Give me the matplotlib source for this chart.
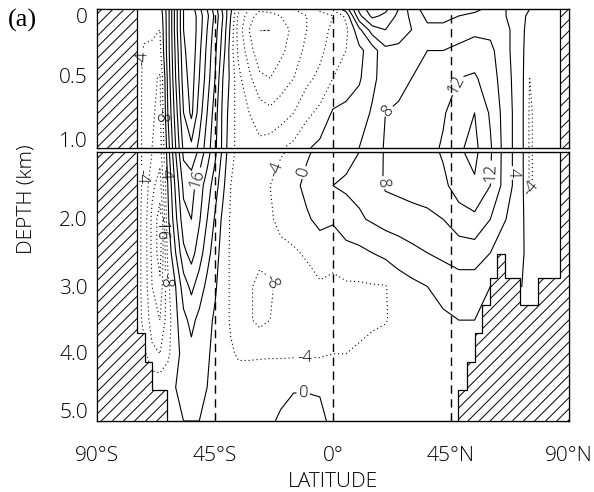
import numpy as np
import matplotlib
matplotlib.use("Agg")
import matplotlib.pyplot as plt
from matplotlib.patches import Polygon

# Grid of the overturning streamfunction (Sv): latitude nodes and depth nodes (km)
lat = [-90, -78, -75, -72, -69, -66, -63, -60, -57, -54, -51, -48, -45, -42, -39,
       -36, -32, -28, -24, -20, -15, -10, -5, 0, 5, 10, 15, 20, 25, 30,
       36, 42, 48, 54, 60, 66, 72, 75, 78, 84, 90]
depth = [0, 0.05, 0.15, 0.3, 0.5, 0.75, 1.0, 1.5, 2.0, 2.5, 3.0, 3.5, 4.0, 4.5, 5.0]

# One profile per latitude node, top to bottom
psi_profiles = [
    [0, 0, 0, 0, 0, 0, 0, 0, 0, 0, 0, 0, 0, 0, 0],                              # -90
    [0, 0, 0, 0, 0, 0, 0, 0, 0, 0, 0, 0, 0, 0, 0],                              # -78
    [0, -1, -1, -2, -2, -2, -2, -2, -2, -2, -2, -2, -1, 0, 0],                   # -75
    [0, -2, -3, -4.5, -5, -5, -5, -5, -5.5, -5.5, -5.5, -5, -3, 0, 0],           # -72
    [-1, -2, -3, -5, -7, -7.5, -8, -11, -13, -13, -12, -10, -7, -1, 0],         # -69
    [-2, -3, -4, -5, -8.5, -9, -10, -14, -18, -18, -15, -12, -8, -1, 0],        # -66
    [6, 6, 6, 6, 5, 4, 2, 0, -1, -3, -5, -6, -5, -1, 0],                        # -63
    [18, 18, 18, 17, 16, 14, 12, 9, 7, 4, 0, -1, -1, 0, 0],                     # -60
    [28, 28, 28, 27, 26, 24, 21, 17, 14.5, 11, 6, 3, 1, 0.5, 0],                # -57
    [30, 31, 31, 31, 30, 29, 23, 17.5, 16, 13.5, 9, 5, 3, 1, 0],                # -54
    [25, 26, 26, 25, 24, 22, 19, 14, 12.5, 10, 6, 3, 2, 1, 0],                  # -51
    [20, 21, 20, 19, 18, 16, 14, 10, 8, 5.5, 3, 1, 0.5, 0, -0.5],               # -48
    [14, 15, 14, 13, 12, 10, 9, 6, 3.5, 2, 0.5, -0.5, -1, -0.5, -0.5],          # -45
    [7, 8, 7, 6, 4, 3, 3, 1, -1, -2, -2, -2, -2, -1, -0.5],                     # -42
    [1, 0, -1, -2, -1, -2, -3, -4, -4.5, -4.5, -4.5, -4.5, -3.5, -1, -0.5],     # -39
    [-7, -9, -10, -9, -7, -6, -5, -5, -5, -5, -5.5, -5.5, -4.5, -2, -0.5],      # -36
    [-12, -14, -16, -14, -11, -8, -6, -5, -5, -6, -7.5, -7.5, -4.5, -2, -0.5],  # -32
    [-15, -18, -20, -19, -15, -10, -7, -5, -5, -7, -9, -9, -4.5, -1.5, -0.5],   # -28
    [-15, -17, -20, -19, -16, -11, -6, -4, -4.5, -6.5, -8.5, -8, -4.5, -1, -0.5],  # -24
    [-14, -16, -18, -17, -14, -10, -4.5, -2, -3, -5, -7, -6.5, -4.5, -1, 0.5],  # -20
    [-12, -14, -15, -14, -12, -8, -3, -1, -2, -4.5, -6, -6, -4.5, -0.2, 1],     # -15
    [-10, -12, -12, -11, -9, -5, -0.5, 1, -0.5, -3.5, -5.5, -5.5, -4.5, -0.2, 1],  # -10
    [-7, -10, -10, -9, -7, -3, 1, 2.5, 1, -2, -4.5, -5, -4.5, -0.2, 0.5],       # -5
    [-3, -8, -7, -6, -4, 0.5, 2.5, 4, 0.5, -2.5, -5, -5.5, -4, -1, -0.5],       # 0
    [2, -3, -5, -4, -2, 1, 3, 4.5, 2.5, -1.5, -4.5, -5, -4, -1, -0.5],          # 5
    [13, 11, 3, -1, -0.5, 2, 4, 5, 3.5, -1, -4.5, -5, -3.5, -1, -0.5],          # 10
    [19, 17, 10, 2, 3, 4.5, 5.5, 6, 4.5, 0, -4.3, -4.5, -3, -1, -0.5],          # 15
    [17, 15, 12, 7, 6, 8, 8.5, 8.5, 5.5, 1, -4.2, -4.2, -2.5, -1, -0.5],        # 20
    [12, 11, 10, 7, 7, 8.5, 9, 9, 6, 2, -2, -3, -2, -1, -0.5],                  # 25
    [6, 7, 8, 8, 8, 9, 9.5, 9.5, 6.5, 3, -1, -2, -1.5, -1, -0.5],               # 30
    [2, 3, 5, 8, 9, 10, 10.5, 10, 7, 4, 0, -1, -1, -0.5, -0.5],                 # 36
    [2, 3, 5, 8, 10, 11.5, 12.5, 11, 8, 5, 1, -0.5, -1, -0.5, -0.5],            # 42
    [3, 4, 6, 9, 12, 14.5, 15.5, 14, 10, 6, 2, 0, 0, 0, 0],                     # 48
    [3, 5, 7, 10, 12.5, 16, 17, 15.5, 11, 6, 2, 0, 0, 0, 0],                    # 54
    [5, 6, 7, 9, 10, 11.5, 12.5, 12, 8, 4, 0, 0, 0, 0, 0],                      # 60
    [4, 4, 5, 5, 5.5, 6, 6, 6, 4, 1, 0, 0, 0, 0, 0],                            # 66
    [1, 1, 1, 1, 1, 1, 1, 1, 0.5, 0.2, 0, 0, 0, 0, 0],                          # 72
    [0, -1, -2, -3, -4, -4.5, -4.5, -4.5, -1.5, -0.5, 0, 0, 0, 0, 0],           # 75
    [0, -1, -1, -2, -2.5, -3, -3, -3, -1, -0.5, 0, 0, 0, 0, 0],                 # 78
    [0, -0.5, -0.5, -0.5, -1, -1, -1, -1, -0.5, -0.3, 0, 0, 0, 0, 0],           # 84
    [0, 0, 0, 0, 0, 0, 0, 0, 0, 0, 0, 0, 0, 0, 0],                              # 90
]

levels = list(range(-24, 36, 4))

# Sea floor outlines (latitude, depth) for the hatched topography
south_land_lat = [-90, -74.7, -74.7, -71.7, -71.7, -69.0, -69.0, -63.2, -63.2, -90]
south_land_dep = [1.0, 1.0, 3.69, 3.69, 4.12, 4.12, 4.54, 4.54, 5.0, 5.0]
north_land_lat = [47.8, 47.8, 51.2, 51.2, 54.3, 54.3, 56.9, 56.9, 60.0, 60.0, 62.7,
                  62.7, 65.7, 65.7, 71.5, 71.5, 78.0, 78.0, 86.7, 86.7, 90, 90]
north_land_dep = [5.0, 4.54, 4.54, 4.12, 4.12, 3.69, 3.69, 3.27, 3.27, 2.87, 2.87,
                  2.52, 2.52, 2.87, 2.87, 3.27, 3.27, 2.87, 2.87, 1.0, 1.0, 5.0]

xticks = [-90, -45, 0, 45, 90]
xticklabels = ["90°S", "45°S", "0°", "45°N", "90°N"]
ytick_top = [0, 0.5, 1.0]
ytick_bot = [2.0, 3.0, 4.0, 5.0]

plt.rcParams['font.family'] = ['Open Sans', 'DejaVu Sans']
plt.rcParams['font.weight'] = 'light'
plt.rcParams['hatch.linewidth'] = 0.7

W, H = 594, 492
fig = plt.figure(figsize=(W / 100, H / 100), dpi=100)

def frac(x0, y0, x1, y1):
    return [x0 / W, 1 - y1 / H, (x1 - x0) / W, (y1 - y0) / H]

ax_top = fig.add_axes(frac(97, 9, 569, 147.5))
ax_bot = fig.add_axes(frac(97, 152, 569, 421))

LAT = np.array(lat)
DEP = np.array(depth)
PSI = np.array(psi_profiles, dtype=float).T
styles = [(0, (1, 2.6)) if v < 0 else 'solid' for v in levels]

for ax, (d0, d1) in ((ax_top, (0, 1)), (ax_bot, (1, 5))):
    cs = ax.contour(LAT, DEP, PSI, levels=levels, colors='k', linewidths=0.8,
                    linestyles=styles)
    ax.set_xlim(-90, 90)
    ax.set_ylim(d1, d0)
    for lx in (-45, 0, 45):
        ax.axvline(lx, color='k', lw=1.0, ls=(0, (6, 4)), zorder=3)
    ax.tick_params(direction='in', length=6, width=0.8, right=True, top=False,
                   labelsize=15, labelleft=False)
    for s in ax.spines.values():
        s.set_linewidth(1.0)
    ax.ccs = cs

# Topography
land_style = dict(closed=True, facecolor='white', edgecolor='k', lw=0.9,
                  hatch='///', zorder=4)
ax_top.add_patch(Polygon([[-90, 0], [-74.7, 0], [-74.7, 1], [-90, 1]], **land_style))
ax_top.add_patch(Polygon([[86.7, 0], [90, 0], [90, 1], [86.7, 1]], **land_style))
ax_bot.add_patch(Polygon(np.column_stack([south_land_lat, south_land_dep]), **land_style))
ax_bot.add_patch(Polygon(np.column_stack([north_land_lat, north_land_dep]), **land_style))

# Axis ticks
ax_top.set_xticks(xticks)
ax_top.tick_params(labelbottom=False, bottom=False)
ax_top.set_yticks(ytick_top)
ax_bot.set_xticks(xticks)
ax_bot.set_xticklabels(xticklabels)
ax_bot.tick_params(axis='x', pad=18)
ax_bot.set_yticks(ytick_bot)

# Depth labels sit just inside the panel edges
def ytop_px(d):
    return 9 + d * 138.5

def ybot_px(d):
    return 152 + (d - 1) * 67.3

nudges_top = {0: 9, 0.5: 0, 1.0: -5}
nudges_bot = {2.0: 2, 3.0: 2, 4.0: 1, 5.0: -8}
for d in ytick_top:
    fig.text(88 / W, 1 - (ytop_px(d) + nudges_top[d]) / H, f"{d:g}" if d == 0 else f"{d:.1f}",
             ha='right', va='center', fontsize=15)
for d in ytick_bot:
    fig.text(88 / W, 1 - (ybot_px(d) + nudges_bot[d]) / H, f"{d:.1f}",
             ha='right', va='center', fontsize=15)

fig.text(333 / W, 1 - 482 / H, "LATITUDE", ha='center', va='center', fontsize=15)
fig.text(26 / W, 1 - 199 / H, "DEPTH (km)", ha='center', va='center', fontsize=15,
         rotation=90)
fig.text(8 / W, 1 - 20 / H, "(a)", ha='left', va='center', fontsize=19,
         family=['Liberation Serif', 'DejaVu Serif'], weight='normal')

# Contour labels
def dtop(x, y):
    return ((x - 97) / 2.62 - 90, (y - 9) / 138.5)

def dbot(x, y):
    return ((x - 97) / 2.62 - 90, 1 + (y - 152) / 67.3)

top_spots = [dtop(140, 58), dtop(159, 115), dtop(385, 108), dtop(450, 82)]
bot_spots = [dbot(139, 176), dbot(164, 172), dbot(196, 178), dbot(161, 228),
             dbot(166, 280), dbot(270, 167), dbot(295, 170), dbot(385, 183),
             dbot(275, 280), dbot(305, 348), dbot(303, 388), dbot(490, 172),
             dbot(515, 173), dbot(532, 190)]
for ax, spots in ((ax_top, top_spots), (ax_bot, bot_spots)):
    ax.clabel(ax.ccs, inline=True, fontsize=12, fmt='%d', manual=spots,
              inline_spacing=2)

fig.savefig("out.png", dpi=100)
